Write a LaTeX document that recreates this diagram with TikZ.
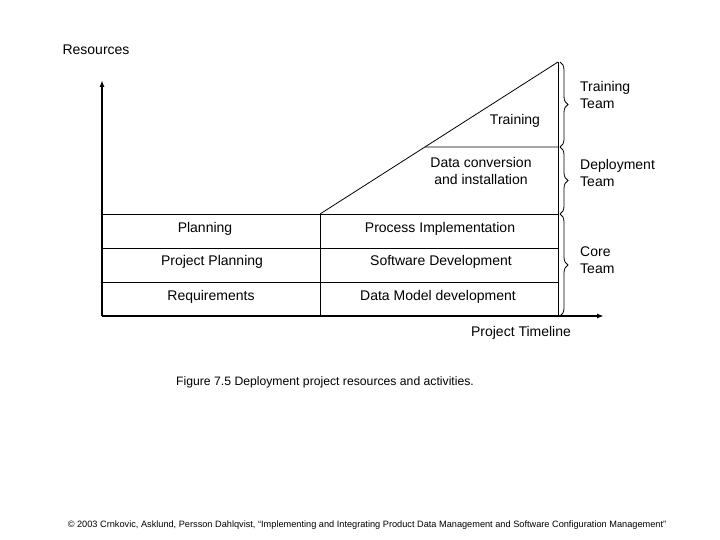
\documentclass[tikz,border=0pt]{standalone}
\usepackage{fontspec}
\setmainfont{Liberation Sans}
\usetikzlibrary{arrows.meta,calc,decorations.pathreplacing,positioning}
\tikzset{
    x=1pt,y=-1pt,
    axis/.style={line width=1.6pt,-{Latex[length=7pt,width=5pt]}},
    frame/.style={line width=0.8pt},
    lbl/.style={inner sep=0pt,font=\fontsize{14}{16.5}\selectfont,align=center},
    team/.style={lbl,align=left,anchor=west},
    grp/.style={decorate,decoration={brace,amplitude=8pt},line width=0.8pt}
}
\begin{document}
\begin{tikzpicture}
    \useasboundingbox[fill=white] (0,0) rectangle (720,540);
    % axes
    \coordinate (O) at (102,316);
    \coordinate (ytop) at (102,80);
    \coordinate (xend) at (604,316);
    \draw[axis] (O) -- (ytop);
    \draw[axis] (O) -- (xend);

    % activity rows
    \coordinate (split) at (320,214);
    \coordinate (top) at (558,62);
    \coordinate (mid) at (558,147);
    \coordinate (B) at (558,316);
    \coordinate (SB) at (320,316);
    \foreach \y [count=\i] in {214,248,282} {
        \coordinate (L\i) at (102,\y);
        \coordinate (R\i) at (558,\y);
        \draw[frame] (L\i) -- (R\i);
    }
    \draw[frame] (split) -- (SB);
    \draw[frame] (top) -- (B);
    \draw[frame] (split) -- (top) coordinate[pos=0.4408] (D);
    \draw[frame] (D) -- (mid);

    % team braces
    \draw[grp] ($(top)+(2,0)$) -- ($(mid)+(2,0)$);
    \draw[grp] ($(mid)+(2,0)$) -- ($(R1)+(2,0)$);
    \draw[grp] ($(R1)+(2,0)$) -- ($(B)+(2,0)$);

    % labels
    \node[lbl] (res) at (96,50) {Resources};
    \node[lbl] (time) at (521,333) {Project Timeline};
    \node[lbl] (train) at (515,121) {Training};
    \node[lbl] (conv) at (481,171) {Data conversion\\and installation};
    \node[lbl] (plan) at (205,229) {Planning};
    \node[lbl] (pplan) at (212,262) {Project Planning};
    \node[lbl] (req) at (211,297) {Requirements};
    \node[lbl] (proc) at (440,229) {Process Implementation};
    \node[lbl] (soft) at (441,262) {Software Development};
    \node[lbl] (model) at (438,297) {Data Model development};
    \node[team] (tteam) at (580,95) {Training\\Team};
    \node[team] (dteam) at (580,173) {Deployment\\Team};
    \node[team] (cteam) at (580,260) {Core\\Team};

    \node[inner sep=0pt,anchor=west,font=\fontsize{12.2}{14}\selectfont] (cap) at (176,382)
        {Figure 7.5 Deployment project resources and activities.};
    \node[inner sep=0pt,font=\fontsize{9.2}{11}\selectfont] (foot) at (367,525)
        {\textcopyright{} 2003 Crnkovic, Asklund, Persson Dahlqvist, ``Implementing and Integrating Product Data Management and Software Configuration Management''};
\end{tikzpicture}
\end{document}
